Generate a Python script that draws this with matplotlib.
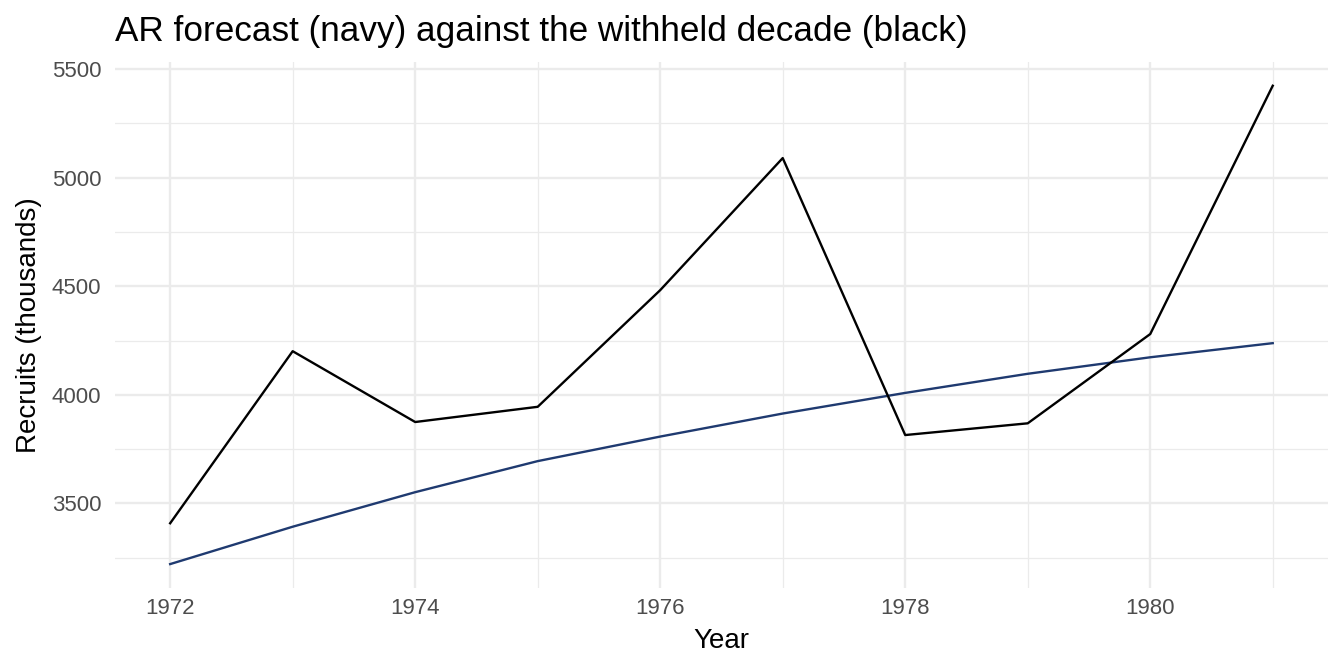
import matplotlib
matplotlib.use("Agg")
import matplotlib.pyplot as plt
from matplotlib.ticker import MultipleLocator

plt.rcParams["font.family"] = ["Liberation Sans", "DejaVu Sans"]

# =====================================================
# Data
# =====================================================

years = [1972, 1973, 1974, 1975, 1976, 1977, 1978, 1979, 1980, 1981]

actual = [3409, 4201, 3875, 3945, 4482, 5090, 3815, 3869, 4280, 5423]

forecast = [3221, 3393, 3552, 3695, 3808, 3914, 4009, 4097, 4173, 4238]

x_ticks = [1972, 1974, 1976, 1978, 1980]
y_ticks = [3500, 4000, 4500, 5000, 5500]

navy = "#1f3a70"
grid_col = "#ebebeb"

# =====================================================
# Figure
# =====================================================

fig = plt.figure(figsize=(13.44, 6.72), dpi=100)
ax = fig.add_axes([0.0856, 0.125, 0.9024, 0.783])

ax.plot(years, forecast, color=navy, linewidth=1.7, zorder=3)
ax.plot(years, actual, color="black", linewidth=1.7, zorder=4)

lo = min(min(actual), min(forecast))
hi = max(max(actual), max(forecast))
pad = (hi - lo) * 0.05
ax.set_ylim(lo - pad, hi + pad)
xpad = (years[-1] - years[0]) * 0.05
ax.set_xlim(years[0] - xpad, years[-1] + xpad)

ax.set_xticks(x_ticks)
ax.set_yticks(y_ticks)
ax.xaxis.set_minor_locator(MultipleLocator(1))
ax.yaxis.set_minor_locator(MultipleLocator(250))

ax.grid(which="major", color=grid_col, linewidth=1.7)
ax.grid(which="minor", color=grid_col, linewidth=0.9)
ax.set_axisbelow(True)

for s in ax.spines.values():
    s.set_visible(False)

ax.tick_params(which="both", length=0)
ax.tick_params(axis="x", labelsize=16, labelcolor="#4d4d4d", pad=7)
ax.tick_params(axis="y", labelsize=16, labelcolor="#4d4d4d", pad=10)

ax.set_xlabel("Year", fontsize=20, labelpad=7)
ax.set_ylabel("Recruits (thousands)", fontsize=20, labelpad=7)

fig.text(0.0856, 0.953, "AR forecast (navy) against the withheld decade (black)",
         fontsize=25.3, ha="left", va="center")

fig.savefig("out.png", dpi=100)
plt.close(fig)
